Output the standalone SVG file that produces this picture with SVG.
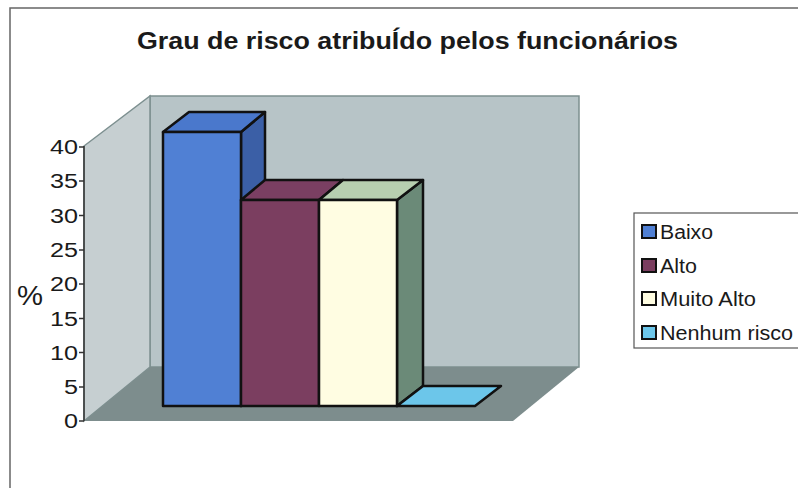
<svg xmlns="http://www.w3.org/2000/svg" width="798" height="488" viewBox="0 0 798 488">
<style>
.t{font-family:"Liberation Sans",Arial,sans-serif;fill:#1a1a1a}
.ax{font-size:20px;text-anchor:end}
.lg{font-size:20px}
.bar{stroke:#111;stroke-width:2.5;stroke-linejoin:round}
.wall{stroke:#7d9090;stroke-width:1.5}
</style>
<rect width="798" height="488" fill="#fff"/>
<rect x="10" y="8" width="800" height="500" fill="none" stroke="#666" stroke-width="1.5"/>
<text class="t" x="137" y="49" font-size="23.5" font-weight="bold" textLength="541" lengthAdjust="spacingAndGlyphs">Grau de risco atribuÍdo pelos funcionários</text>
<g id="walls">
<polygon class="wall" points="150,96 579,96 579,367 150,367" fill="#b7c4c7"/>
<polygon class="wall" points="84,146 150,96 150,367 84,421" fill="#c6cfd1"/>
<polygon points="84,421 150,367 579,367 513,421" fill="#7d8d8d"/>
</g>
<g id="axis">
<line x1="84" y1="146" x2="84" y2="421" stroke="#333" stroke-width="1.5"/>
<g stroke="#333" stroke-width="1.5">
<line x1="79" y1="147" x2="84" y2="147"/><line x1="79" y1="181" x2="84" y2="181"/>
<line x1="79" y1="215.5" x2="84" y2="215.5"/><line x1="79" y1="250" x2="84" y2="250"/>
<line x1="79" y1="284" x2="84" y2="284"/><line x1="79" y1="318.5" x2="84" y2="318.5"/>
<line x1="79" y1="352.5" x2="84" y2="352.5"/><line x1="79" y1="387" x2="84" y2="387"/>
<line x1="79" y1="421" x2="84" y2="421"/>
</g>
<text class="t ax" x="78" y="154" textLength="28" lengthAdjust="spacingAndGlyphs">40</text>
<text class="t ax" x="78" y="188" textLength="28" lengthAdjust="spacingAndGlyphs">35</text>
<text class="t ax" x="78" y="222.5" textLength="28" lengthAdjust="spacingAndGlyphs">30</text>
<text class="t ax" x="78" y="257" textLength="28" lengthAdjust="spacingAndGlyphs">25</text>
<text class="t ax" x="78" y="291" textLength="28" lengthAdjust="spacingAndGlyphs">20</text>
<text class="t ax" x="78" y="325.5" textLength="28" lengthAdjust="spacingAndGlyphs">15</text>
<text class="t ax" x="78" y="359.5" textLength="28" lengthAdjust="spacingAndGlyphs">10</text>
<text class="t ax" x="78" y="394" textLength="14" lengthAdjust="spacingAndGlyphs">5</text>
<text class="t ax" x="78" y="428" textLength="14" lengthAdjust="spacingAndGlyphs">0</text>
<text class="t" x="17" y="305" font-size="27" textLength="26" lengthAdjust="spacingAndGlyphs">%</text>
</g>
<g id="bar-baixo">
<polygon class="bar" points="241,132 265,112 265,386 241,406" fill="#3b5fa6"/>
<polygon class="bar" points="163,132 189,112 265,112 241,132" fill="#4a78cc"/>
<rect class="bar" x="163" y="132" width="78" height="274" fill="#5080d4"/>
</g>
<g id="bar-alto">
<polygon class="bar" points="241,200 265,180 343,180 319,200" fill="#7a3f62"/>
<rect class="bar" x="241" y="200" width="78" height="206" fill="#7b3e60"/>
</g>
<g id="bar-muito-alto">
<polygon class="bar" points="397,200 423,180 423,386 397,406" fill="#6b8a78"/>
<polygon class="bar" points="319,200 343,180 423,180 397,200" fill="#b7cfb0"/>
<rect class="bar" x="319" y="200" width="78" height="206" fill="#fffde2"/>
</g>
<g id="bar-nenhum">
<polygon class="bar" points="397,406 423,386 501,386 475,406" fill="#6cc6ea"/>
</g>
<g id="legend">
<rect x="634" y="213" width="170" height="135" fill="#fff" stroke="#555" stroke-width="1.2"/>
<rect x="642" y="225" width="14" height="13" fill="#5080d4" stroke="#111" stroke-width="2"/>
<rect x="642" y="259" width="14" height="13" fill="#7b3e60" stroke="#111" stroke-width="2"/>
<rect x="642" y="292" width="14" height="13" fill="#fffde2" stroke="#111" stroke-width="2"/>
<rect x="642" y="326" width="14" height="13" fill="#6cc6ea" stroke="#111" stroke-width="2"/>
<text class="t lg" x="660" y="239" textLength="53" lengthAdjust="spacingAndGlyphs">Baixo</text>
<text class="t lg" x="660" y="273" textLength="37" lengthAdjust="spacingAndGlyphs">Alto</text>
<text class="t lg" x="660" y="306" textLength="96" lengthAdjust="spacingAndGlyphs">Muito Alto</text>
<text class="t lg" x="660" y="340" textLength="133" lengthAdjust="spacingAndGlyphs">Nenhum risco</text>
</g>
</svg>
